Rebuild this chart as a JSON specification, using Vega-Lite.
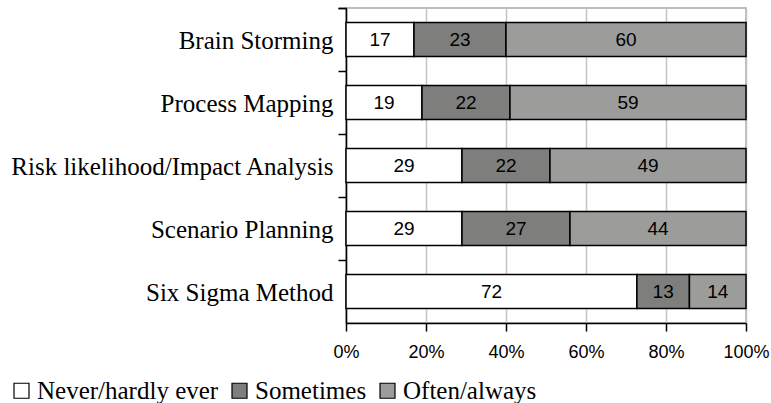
{
  "$schema": "https://vega.github.io/schema/vega-lite/v6.json",
  "autosize": {"type": "none"},
  "width": 400,
  "height": 315,
  "padding": {"left": 346, "top": 8, "right": 25, "bottom": 80},
  "background": "white",
  "data": {
    "values": [
      {"method": "Brain Storming", "response": "Never/hardly ever", "level": 1, "pct": 17},
      {"method": "Brain Storming", "response": "Sometimes", "level": 2, "pct": 23},
      {"method": "Brain Storming", "response": "Often/always", "level": 3, "pct": 60},
      {"method": "Process Mapping", "response": "Never/hardly ever", "level": 1, "pct": 19},
      {"method": "Process Mapping", "response": "Sometimes", "level": 2, "pct": 22},
      {"method": "Process Mapping", "response": "Often/always", "level": 3, "pct": 59},
      {"method": "Risk likelihood/Impact Analysis", "response": "Never/hardly ever", "level": 1, "pct": 29},
      {"method": "Risk likelihood/Impact Analysis", "response": "Sometimes", "level": 2, "pct": 22},
      {"method": "Risk likelihood/Impact Analysis", "response": "Often/always", "level": 3, "pct": 49},
      {"method": "Scenario Planning", "response": "Never/hardly ever", "level": 1, "pct": 29},
      {"method": "Scenario Planning", "response": "Sometimes", "level": 2, "pct": 27},
      {"method": "Scenario Planning", "response": "Often/always", "level": 3, "pct": 44},
      {"method": "Six Sigma Method", "response": "Never/hardly ever", "level": 1, "pct": 72},
      {"method": "Six Sigma Method", "response": "Sometimes", "level": 2, "pct": 13},
      {"method": "Six Sigma Method", "response": "Often/always", "level": 3, "pct": 14}
    ]
  },
  "encoding": {
    "y": {
      "field": "method",
      "type": "nominal",
      "sort": null,
      "title": null,
      "scale": {"paddingInner": 0.46, "paddingOuter": 0.23},
      "axis": {
        "bandPosition": 0,
        "tickOffset": -14.5,
        "tickExtra": true,
        "labelOffset": 15,
        "domainColor": "black",
        "domainWidth": 1.5,
        "tickColor": "black",
        "tickWidth": 1.5,
        "tickSize": 8,
        "labelFont": "Liberation Serif",
        "labelFontSize": 25,
        "labelColor": "black",
        "labelPadding": 5,
        "labelLimit": 400,
        "grid": false
      }
    }
  },
  "layer": [
    {
      "mark": {"type": "bar", "stroke": "black", "strokeWidth": 1.5},
      "encoding": {
        "x": {
          "field": "pct",
          "type": "quantitative",
          "stack": "normalize",
          "title": null,
          "scale": {"domain": [0, 1]},
          "axis": {
            "values": [0, 0.2, 0.4, 0.6, 0.8, 1],
            "format": ".0%",
            "labelFlush": false,
            "domainColor": "black",
            "domainWidth": 1.5,
            "tickColor": "black",
            "tickWidth": 1.5,
            "tickSize": 8,
            "grid": true,
            "gridColor": "#c4c4c4",
            "gridWidth": 1.5,
            "labelFont": "Liberation Sans",
            "labelFontSize": 18,
            "labelColor": "black",
            "labelPadding": 12
          }
        },
        "order": {"field": "level"},
        "fill": {
          "field": "response",
          "type": "nominal",
          "sort": ["Never/hardly ever", "Sometimes", "Often/always"],
          "scale": {
            "domain": ["Never/hardly ever", "Sometimes", "Often/always"],
            "range": ["#ffffff", "#7e7f7c", "#9c9d9a"]
          },
          "legend": {
            "title": null,
            "orient": "none",
            "direction": "horizontal",
            "legendX": -337,
            "legendY": 370,
            "padding": 0,
            "symbolType": "square",
            "symbolSize": 225,
            "symbolStrokeColor": "black",
            "symbolStrokeWidth": 1.2,
            "symbolOpacity": 1,
            "labelFont": "Liberation Serif",
            "labelFontSize": 25,
            "labelColor": "black",
            "labelOffset": 3,
            "columnPadding": 8,
            "labelLimit": 300
          }
        }
      }
    },
    {
      "mark": {"type": "text", "font": "Liberation Sans", "fontSize": 19, "color": "black", "baseline": "middle"},
      "encoding": {
        "x": {"field": "pct", "type": "quantitative", "stack": "normalize", "bandPosition": 0.5},
        "order": {"field": "level"},
        "detail": {"field": "response"},
        "text": {"field": "pct", "type": "quantitative"}
      }
    }
  ],
  "config": {
    "view": {"stroke": "#a8a8a8", "strokeWidth": 1.5}
  }
}
